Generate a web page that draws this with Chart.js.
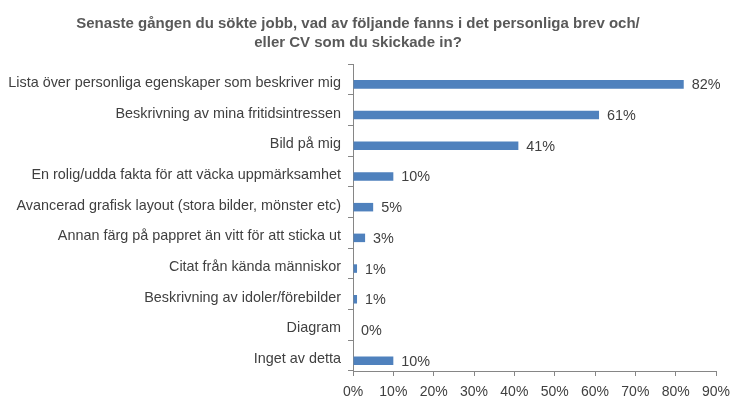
<!DOCTYPE html>
<html>
<head>
<meta charset="utf-8">
<script src="https://cdn.jsdelivr.net/npm/chart.js@4/dist/chart.umd.min.js"></script>
<style>
  html, body { margin: 0; padding: 0; background: #ffffff; }
  #wrap { width: 746px; height: 406px; position: relative; }
</style>
</head>
<body>
<div id="wrap"><canvas id="c"></canvas></div>
<script>
const titleLines = [
  "Senaste gången du sökte jobb, vad av följande fanns i det personliga brev och/",
  "eller CV som du skickade in?"
];
const categories = [
  "Lista över personliga egenskaper som beskriver mig",
  "Beskrivning av mina fritidsintressen",
  "Bild på mig",
  "En rolig/udda fakta för att väcka uppmärksamhet",
  "Avancerad grafisk layout (stora bilder, mönster etc)",
  "Annan färg på pappret än vitt för att sticka ut",
  "Citat från kända människor",
  "Beskrivning av idoler/förebilder",
  "Diagram",
  "Inget av detta"
];
const values = [82, 61, 41, 10, 5, 3, 1, 1, 0, 10];
const spacerValues = [null, null, null, null, null, null, null, null, null, null];
const xMin = 0, xMax = 90, xStep = 10;

const FONT = "'Liberation Sans', Arial, Helvetica, sans-serif";
const TEXT = "#404040";
const AXIS = "#868686";

const dataLabels = {
  id: "dataLabels",
  afterDatasetsDraw(chart) {
    const meta = chart.getDatasetMeta(1);
    const ctx = chart.ctx;
    ctx.save();
    ctx.font = "14.4px " + FONT;
    ctx.fillStyle = TEXT;
    ctx.textAlign = "left";
    ctx.textBaseline = "middle";
    meta.data.forEach((bar, i) => {
      ctx.fillText(values[i] + "%", bar.x + 8, bar.y + 1);
    });
    ctx.restore();
  }
};

new Chart(document.getElementById("c"), {
  type: "bar",
  data: {
    labels: categories,
    datasets: [
      { label: "spacer", data: spacerValues, backgroundColor: "rgba(0,0,0,0)" },
      { label: "Andel", data: values, backgroundColor: "#4F81BD", borderWidth: 0 }
    ]
  },
  options: {
    indexAxis: "y",
    responsive: true,
    maintainAspectRatio: false,
    animation: false,
    categoryPercentage: 0.653,
    barPercentage: 0.85,
    layout: { padding: { top: 0, right: 30, left: 0, bottom: 0 } },
    plugins: {
      legend: { display: false },
      tooltip: { enabled: false },
      title: {
        display: true,
        text: titleLines,
        color: "#595959",
        font: { family: FONT, size: 15, weight: "bold", lineHeight: 1.267 },
        padding: { top: 14, bottom: 12 }
      }
    },
    scales: {
      x: {
        type: "linear",
        min: xMin,
        max: xMax,
        afterFit(scale) { scale.height = 35; },
        ticks: {
          stepSize: xStep,
          color: TEXT,
          padding: 8,
          font: { family: FONT, size: 14 },
          callback: (v) => v + "%"
        },
        grid: { display: true, drawOnChartArea: false, drawTicks: true, tickLength: 5, color: AXIS },
        border: { display: true, color: AXIS, width: 1 }
      },
      y: {
        afterFit(scale) { scale.width = 353; },
        ticks: {
          color: TEXT,
          padding: 7,
          labelOffset: 3.5,
          autoSkip: false,
          font: { family: FONT, size: 14.4 }
        },
        grid: { display: true, offset: true, drawOnChartArea: false, drawTicks: true, tickLength: 5, color: AXIS },
        border: { display: true, color: AXIS, width: 1 }
      }
    }
  },
  plugins: [dataLabels]
});
</script>
</body>
</html>
